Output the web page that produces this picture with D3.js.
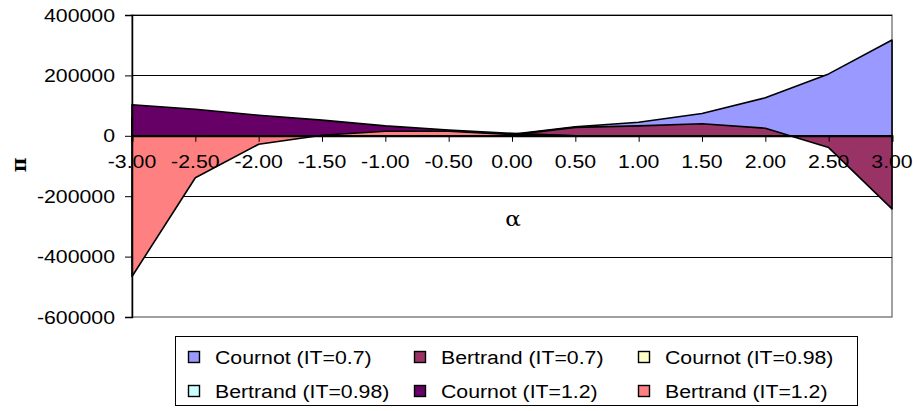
<!DOCTYPE html>
<html>
<head>
<meta charset="utf-8">
<script src="https://cdn.jsdelivr.net/npm/d3@7"></script>
<style>
  html, body { margin: 0; padding: 0; background: #fff; }
  svg { display: block; }
  text { font-family: "Liberation Sans", Arial, sans-serif; fill: #000; }
  text.greek { font-family: "DejaVu Serif", "Liberation Serif", serif; }
</style>
</head>
<body>
<svg id="chart" width="917" height="411"></svg>
<script>
// Profit π against α for Cournot and Bertrand competition at three IT levels
const alpha = [-3, -2.5, -2, -1.5, -1, -0.5, 0, 0.5, 1, 1.5, 2, 2.5, 3];
const alphaLabels = ["-3.00", "-2.50", "-2.00", "-1.50", "-1.00", "-0.50", "0.00",
                     "0.50", "1.00", "1.50", "2.00", "2.50", "3.00"];

const cournot07   = [60000, 50000, 40000, 30000, 22000, 14000, 5000, 30000, 45000, 74000, 126000, 205000, 317000];
const bertrand07  = [40000, 32000, 25000, 18000, 12000, 8000, 3000, 28000, 33000, 40000, 25000, -39000, -242000];
const cournot098  = [20000, 15000, 12000, 8000, 5000, 3000, 0, 0, 0, 0, 0, 0, 0];
const bertrand098 = [10000, 8000, 6000, 4000, 3000, 2000, 0, 0, 0, 0, 0, 0, 0];
const cournot12   = [103000, 88000, 68000, 52000, 33000, 19000, 8000, 0, 0, 0, 0, 0, 0];
const bertrand12  = [-466000, -139000, -28000, 2000, 15000, 15000, 4000, 0, 0, 0, 0, 0, 0];

const seriesNames  = ["Cournot (IT=0.7)", "Bertrand (IT=0.7)", "Cournot (IT=0.98)",
                      "Bertrand (IT=0.98)", "Cournot (IT=1.2)", "Bertrand (IT=1.2)"];
const seriesValues = [cournot07, bertrand07, cournot098, bertrand098, cournot12, bertrand12];
const seriesColors = ["#9999FF", "#993366", "#FFFFCC", "#CCFFFF", "#660066", "#FF8080"];

const yTicks = [400000, 200000, 0, -200000, -400000, -600000];

const svg = d3.select("#chart");
const FONT = 19, STRETCH = 1.12;

const x = d3.scaleLinear().domain([-3, 3]).range([132, 892]);
const y = d3.scaleLinear().domain([-600000, 400000]).range([317, 15]);

// horizontally widened text, anchored at (px, py)
function label(g, px, py, str, anchor, opts = {}) {
  const t = g.append("g")
    .attr("transform", `translate(${px},${py}) scale(${opts.sx || STRETCH},1)`)
    .append("text")
    .attr("text-anchor", anchor)
    .attr("dominant-baseline", "central")
    .style("font-size", (opts.size || FONT) + "px")
    .text(str);
  if (opts.bold) t.style("font-weight", "bold");
  if (opts.cls) t.attr("class", opts.cls);
  return t;
}

// plot area frame
svg.append("rect")
  .attr("x", x(-3)).attr("y", y(400000))
  .attr("width", x(3) - x(-3)).attr("height", y(-600000) - y(400000))
  .attr("fill", "#fff").attr("stroke", "#808080").attr("stroke-width", 1.5);

// horizontal gridlines
svg.append("g").selectAll("line")
  .data(yTicks.filter(v => v !== 0 && v !== -600000))
  .join("line")
  .attr("x1", x(-3)).attr("x2", x(3))
  .attr("y1", d => Math.round(y(d)) + 0.5).attr("y2", d => Math.round(y(d)) + 0.5)
  .attr("stroke", "#000").attr("stroke-width", 1);

// areas, each drawn over the previous one
const area = d3.area()
  .x((d, i) => x(alpha[i]))
  .y0(y(0))
  .y1(d => y(d));

svg.append("g").selectAll("path")
  .data(seriesValues)
  .join("path")
  .attr("d", d => area(d) + "Z")
  .attr("fill", (d, i) => seriesColors[i])
  .attr("stroke", "#000")
  .attr("stroke-width", 1.6)
  .attr("stroke-linejoin", "round");

// value axis
const yAxis = svg.append("g").attr("transform", `translate(${x(-3)},0)`)
  .call(d3.axisLeft(y).tickValues(yTicks).tickSize(7).tickFormat(""));
yAxis.select(".domain").attr("stroke", "#000").attr("stroke-width", 1.5);
yAxis.selectAll(".tick line").attr("stroke", "#000");
const yLab = svg.append("g");
yTicks.forEach(v => label(yLab, 115, y(v), String(v), "end"));

// category axis along zero
const xAxis = svg.append("g").attr("transform", `translate(0,${y(0)})`)
  .call(d3.axisBottom(x).tickValues(alpha).tickSize(6).tickFormat(""));
xAxis.select(".domain").attr("stroke", "#000").attr("stroke-width", 2);
xAxis.selectAll(".tick line").attr("stroke", "#000");
const xLab = svg.append("g");
alpha.forEach((a, i) => label(xLab, x(a), 161, alphaLabels[i], "middle"));

// axis titles
label(svg, 513, 219, "α", "middle", { size: 21, sx: 1.1, cls: "greek" });
svg.append("text")
  .attr("class", "greek")
  .attr("transform", "translate(19,165) rotate(-90)")
  .attr("text-anchor", "middle")
  .attr("dominant-baseline", "central")
  .style("font-size", "20px").style("font-weight", "bold")
  .text("π");

// legend
const lg = svg.append("g");
lg.append("rect").attr("x", 175.5).attr("y", 336.5).attr("width", 682).attr("height", 69)
  .attr("fill", "#fff").attr("stroke", "#000").attr("stroke-width", 1);
const colX = [188, 414, 638];
const rowY = [357, 391];
seriesNames.forEach((name, i) => {
  const cx = colX[i % 3], cy = rowY[Math.floor(i / 3)];
  lg.append("rect").attr("x", cx + 0.5).attr("y", cy - 5.5).attr("width", 11).attr("height", 11)
    .attr("fill", seriesColors[i]).attr("stroke", "#000").attr("stroke-width", 1.4);
  label(lg, cx + 27, cy, name, "start");
});
</script>
</body>
</html>
